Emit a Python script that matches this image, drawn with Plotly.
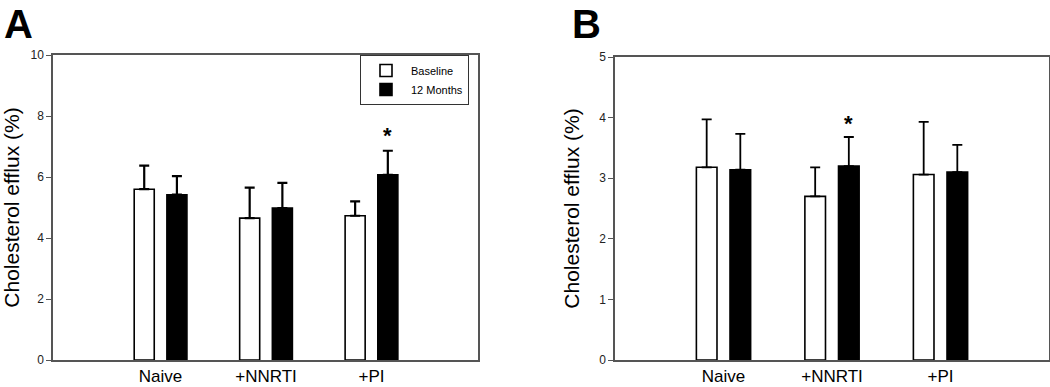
import plotly.graph_objects as go

categories = ["Naive", "+NNRTI", "+PI"]
a_baseline = [5.6, 4.65, 4.73]
a_baseline_err = [0.77, 1.0, 0.47]
a_12m = [5.42, 4.98, 6.07]
a_12m_err = [0.61, 0.83, 0.79]
b_baseline = [3.18, 2.70, 3.06]
b_baseline_err = [0.79, 0.48, 0.87]
b_12m = [3.14, 3.20, 3.10]
b_12m_err = [0.59, 0.48, 0.45]
a_yticks = [0, 2, 4, 6, 8, 10]
b_yticks = [0, 1, 2, 3, 4, 5]
sig_a = "+PI"
sig_b = "+NNRTI"

FONT = "Liberation Sans, Arial, sans-serif"
fig = go.Figure()

def add_pair(xa, ya, base, base_err, m12, m12_err, show, ew):
    fig.add_trace(go.Bar(
        x=categories, y=base, name="Baseline", xaxis=xa, yaxis=ya,
        offset=-0.25, width=0.19, marker=dict(color="white", line=dict(color="black", width=1.6)),
        error_y=dict(type="data", array=base_err, arrayminus=[0]*3, symmetric=False,
                     color="black", thickness=ew, width=5),
        showlegend=show, legendgroup="b"))
    fig.add_trace(go.Bar(
        x=categories, y=m12, name="12 Months", xaxis=xa, yaxis=ya,
        offset=0.06, width=0.19, marker=dict(color="black", line=dict(color="black", width=1.6)),
        error_y=dict(type="data", array=m12_err, arrayminus=[0]*3, symmetric=False,
                     color="black", thickness=ew, width=5),
        showlegend=show, legendgroup="m"))

add_pair("x", "y", a_baseline, a_baseline_err, a_12m, a_12m_err, True, 2.2)
add_pair("x2", "y2", b_baseline, b_baseline_err, b_12m, b_12m_err, False, 1.8)

# significance stars
ia = categories.index(sig_a)
fig.add_annotation(x=ia + 0.155, y=a_12m[ia] + a_12m_err[ia], xref="x", yref="y",
                   text="<b>*</b>", showarrow=False, yshift=15, font=dict(size=22, family=FONT, color="black"))
ib = categories.index(sig_b)
fig.add_annotation(x=ib + 0.155, y=b_12m[ib] + b_12m_err[ib], xref="x2", yref="y2",
                   text="<b>*</b>", showarrow=False, yshift=13, font=dict(size=22, family=FONT, color="black"))

# panel letters
fig.add_annotation(x=0.002, y=1.0, xref="paper", yref="paper", text="<b>A</b>", showarrow=False,
                   xanchor="left", yanchor="top", yshift=0, font=dict(size=40, family=FONT, color="black"))
fig.add_annotation(x=0.543, y=1.0, xref="paper", yref="paper", text="<b>B</b>", showarrow=False,
                   xanchor="left", yanchor="top", yshift=0, font=dict(size=40, family=FONT, color="black"))

axcol = "#555555"
xcommon = dict(type="category", showline=True, linecolor=axcol, linewidth=1.5, mirror=True,
               ticks="", showgrid=False, zeroline=False, automargin=False,
               tickfont=dict(size=17, family=FONT, color="black"))
ycommon = dict(showline=True, linecolor=axcol, linewidth=1.5, mirror=True, ticks="outside",
               ticklen=5, tickcolor=axcol, tickwidth=1.2, showgrid=False, zeroline=False,
               automargin=False,
               tickfont=dict(size=12, family=FONT, color="#222222"),
               title=dict(text="Cholesterol efflux (%)", font=dict(size=21, family=FONT, color="black"), standoff=14))

fig.update_layout(
    width=1050, height=387, margin=dict(l=0, r=0, t=0, b=0, autoexpand=False),
    plot_bgcolor="white", paper_bgcolor="white",
    barmode="overlay",
    xaxis=dict(domain=[53/1050, 478/1050], range=[-1.02, 3.01], anchor="y", **xcommon),
    xaxis2=dict(domain=[615/1050, 1049/1050], range=[-1.0, 3.0], anchor="y2", **xcommon),
    yaxis=dict(domain=[27/387, 1-55/387], range=[0, 10], tickvals=a_yticks, anchor="x", **ycommon),
    yaxis2=dict(domain=[27/387, 1-57/387], range=[0, 5], tickvals=b_yticks, anchor="x2", **ycommon),
    legend=dict(x=360/1050, y=1-55/387, xanchor="left", yanchor="top",
                bordercolor="#333333", borderwidth=1, bgcolor="white",
                font=dict(size=11, family=FONT, color="black"),
                itemwidth=40, tracegroupgap=0),
)

fig.write_html("out.html", config={"displayModeBar": False},
               post_script="document.body.style.margin='0';document.body.style.overflow='hidden';")
